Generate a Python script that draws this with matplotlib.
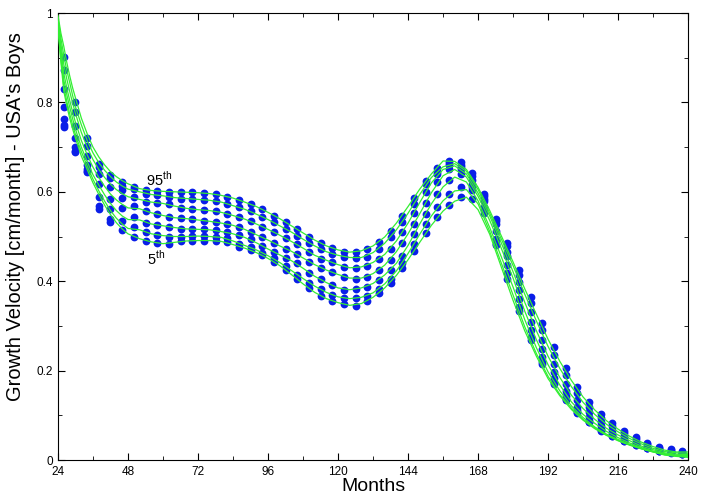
import numpy as np
import matplotlib
matplotlib.use('Agg')
import matplotlib.pyplot as plt
from matplotlib.ticker import MultipleLocator

plt.rcParams['font.family'] = ['Liberation Sans', 'DejaVu Sans']
plt.rcParams['mathtext.fontset'] = 'custom'
plt.rcParams['mathtext.rm'] = 'Liberation Sans'

# dot columns (months) and the 7 percentile values at each, high to low
dot_months = list(range(26, 239, 4))
dot_values = [
    [0.902, 0.872, 0.829, 0.790, 0.764, 0.749, 0.746],
    [0.802, 0.778, 0.747, 0.720, 0.701, 0.691, 0.688],
    [0.720, 0.702, 0.680, 0.661, 0.650, 0.647, 0.644],
    [0.662, 0.656, 0.640, 0.617, 0.588, 0.568, 0.562],
    [0.638, 0.630, 0.610, 0.583, 0.561, 0.539, 0.533],
    [0.623, 0.614, 0.605, 0.587, 0.563, 0.535, 0.515],
    [0.610, 0.606, 0.589, 0.568, 0.544, 0.521, 0.500],
    [0.604, 0.595, 0.578, 0.556, 0.531, 0.509, 0.490],
    [0.602, 0.593, 0.576, 0.550, 0.526, 0.503, 0.485],
    [0.600, 0.589, 0.573, 0.544, 0.522, 0.500, 0.483],
    [0.599, 0.585, 0.564, 0.541, 0.517, 0.500, 0.490],
    [0.599, 0.584, 0.562, 0.539, 0.517, 0.501, 0.490],
    [0.597, 0.582, 0.559, 0.535, 0.516, 0.501, 0.491],
    [0.594, 0.580, 0.557, 0.533, 0.514, 0.500, 0.491],
    [0.589, 0.573, 0.550, 0.528, 0.509, 0.496, 0.487],
    [0.582, 0.565, 0.543, 0.521, 0.503, 0.483, 0.477],
    [0.572, 0.557, 0.535, 0.511, 0.494, 0.476, 0.470],
    [0.561, 0.544, 0.522, 0.498, 0.479, 0.464, 0.459],
    [0.547, 0.532, 0.510, 0.486, 0.466, 0.451, 0.444],
    [0.532, 0.517, 0.496, 0.473, 0.452, 0.433, 0.426],
    [0.516, 0.502, 0.483, 0.461, 0.440, 0.415, 0.404],
    [0.500, 0.486, 0.466, 0.444, 0.419, 0.397, 0.384],
    [0.485, 0.472, 0.450, 0.430, 0.404, 0.382, 0.367],
    [0.474, 0.461, 0.444, 0.421, 0.391, 0.369, 0.356],
    [0.466, 0.455, 0.431, 0.410, 0.380, 0.362, 0.349],
    [0.465, 0.451, 0.429, 0.405, 0.383, 0.362, 0.345],
    [0.472, 0.455, 0.435, 0.410, 0.388, 0.367, 0.356],
    [0.487, 0.473, 0.450, 0.425, 0.403, 0.382, 0.373],
    [0.513, 0.498, 0.471, 0.447, 0.425, 0.406, 0.397],
    [0.547, 0.532, 0.509, 0.485, 0.456, 0.440, 0.429],
    [0.587, 0.572, 0.552, 0.527, 0.505, 0.484, 0.468],
    [0.625, 0.617, 0.600, 0.575, 0.551, 0.527, 0.507],
    [0.653, 0.645, 0.640, 0.621, 0.595, 0.565, 0.543],
    [0.668, 0.664, 0.660, 0.650, 0.626, 0.594, 0.570],
    [0.666, 0.661, 0.656, 0.650, 0.640, 0.610, 0.588],
    [0.642, 0.636, 0.626, 0.618, 0.610, 0.604, 0.585],
    [0.595, 0.590, 0.585, 0.580, 0.567, 0.560, 0.552],
    [0.540, 0.534, 0.528, 0.513, 0.494, 0.484, 0.480],
    [0.485, 0.478, 0.466, 0.457, 0.437, 0.419, 0.405],
    [0.425, 0.415, 0.399, 0.380, 0.361, 0.343, 0.333],
    [0.365, 0.351, 0.330, 0.309, 0.291, 0.276, 0.268],
    [0.307, 0.291, 0.268, 0.248, 0.231, 0.220, 0.215],
    [0.252, 0.236, 0.215, 0.198, 0.183, 0.173, 0.169],
    [0.205, 0.190, 0.170, 0.154, 0.143, 0.137, 0.134],
    [0.164, 0.151, 0.134, 0.119, 0.112, 0.108, 0.106],
    [0.130, 0.119, 0.107, 0.097, 0.089, 0.086, 0.084],
    [0.104, 0.095, 0.084, 0.076, 0.069, 0.067, 0.066],
    [0.082, 0.075, 0.067, 0.061, 0.056, 0.054, 0.053],
    [0.065, 0.060, 0.054, 0.049, 0.045, 0.043, 0.042],
    [0.051, 0.046, 0.041, 0.037, 0.035, 0.034, 0.033],
    [0.039, 0.035, 0.031, 0.028, 0.027, 0.026, 0.026],
    [0.030, 0.027, 0.024, 0.022, 0.021, 0.020, 0.020],
    [0.024, 0.022, 0.019, 0.018, 0.017, 0.017, 0.016],
    [0.020, 0.018, 0.016, 0.015, 0.014, 0.014, 0.013],
]

# fitted percentile curves (green)
line_months = [24, 25, 26, 27, 28, 29, 30, 32, 34, 36, 38, 40, 42, 44, 46, 48] + list(range(52, 241, 4))
line_values = [
    [0.995, 0.990, 0.985, 0.980, 0.975, 0.970, 0.965],
    [0.955, 0.943, 0.930, 0.918, 0.908, 0.898, 0.890],
    [0.925, 0.905, 0.885, 0.865, 0.850, 0.835, 0.825],
    [0.890, 0.872, 0.853, 0.833, 0.818, 0.803, 0.793],
    [0.860, 0.845, 0.825, 0.805, 0.790, 0.775, 0.765],
    [0.833, 0.816, 0.799, 0.779, 0.764, 0.750, 0.741],
    [0.810, 0.790, 0.775, 0.755, 0.740, 0.728, 0.720],
    [0.765, 0.750, 0.733, 0.715, 0.700, 0.690, 0.680],
    [0.730, 0.715, 0.700, 0.683, 0.668, 0.658, 0.650],
    [0.700, 0.687, 0.672, 0.655, 0.638, 0.628, 0.620],
    [0.678, 0.665, 0.650, 0.632, 0.615, 0.602, 0.594],
    [0.660, 0.648, 0.632, 0.612, 0.593, 0.579, 0.570],
    [0.645, 0.634, 0.617, 0.595, 0.574, 0.558, 0.549],
    [0.634, 0.622, 0.605, 0.582, 0.558, 0.541, 0.531],
    [0.625, 0.613, 0.596, 0.572, 0.546, 0.528, 0.517],
    [0.618, 0.606, 0.589, 0.564, 0.538, 0.518, 0.506],
    [0.607, 0.600, 0.583, 0.562, 0.537, 0.515, 0.495],
    [0.603, 0.594, 0.577, 0.553, 0.528, 0.506, 0.488],
    [0.601, 0.591, 0.574, 0.547, 0.524, 0.502, 0.484],
    [0.600, 0.587, 0.568, 0.542, 0.520, 0.500, 0.487],
    [0.599, 0.585, 0.563, 0.540, 0.517, 0.500, 0.490],
    [0.598, 0.583, 0.560, 0.537, 0.516, 0.501, 0.491],
    [0.596, 0.581, 0.558, 0.534, 0.515, 0.500, 0.491],
    [0.592, 0.577, 0.554, 0.530, 0.511, 0.498, 0.489],
    [0.586, 0.569, 0.547, 0.525, 0.506, 0.490, 0.482],
    [0.577, 0.561, 0.539, 0.516, 0.498, 0.480, 0.474],
    [0.567, 0.550, 0.528, 0.504, 0.486, 0.470, 0.464],
    [0.554, 0.538, 0.516, 0.492, 0.472, 0.457, 0.451],
    [0.540, 0.524, 0.503, 0.479, 0.459, 0.442, 0.435],
    [0.524, 0.510, 0.489, 0.467, 0.446, 0.424, 0.415],
    [0.508, 0.494, 0.474, 0.452, 0.429, 0.406, 0.394],
    [0.492, 0.479, 0.458, 0.437, 0.411, 0.389, 0.375],
    [0.479, 0.466, 0.447, 0.425, 0.397, 0.375, 0.361],
    [0.470, 0.458, 0.437, 0.415, 0.385, 0.365, 0.352],
    [0.465, 0.453, 0.430, 0.407, 0.381, 0.361, 0.346],
    [0.468, 0.453, 0.432, 0.407, 0.385, 0.364, 0.350],
    [0.479, 0.464, 0.442, 0.417, 0.395, 0.374, 0.364],
    [0.499, 0.485, 0.460, 0.436, 0.414, 0.394, 0.385],
    [0.530, 0.515, 0.490, 0.466, 0.440, 0.423, 0.413],
    [0.567, 0.552, 0.530, 0.506, 0.480, 0.462, 0.448],
    [0.606, 0.594, 0.576, 0.551, 0.528, 0.505, 0.487],
    [0.640, 0.632, 0.620, 0.598, 0.573, 0.546, 0.525],
    [0.669, 0.656, 0.650, 0.636, 0.611, 0.580, 0.557],
    [0.668, 0.663, 0.658, 0.650, 0.633, 0.602, 0.579],
    [0.650, 0.646, 0.640, 0.633, 0.622, 0.605, 0.588],
    [0.610, 0.605, 0.597, 0.590, 0.580, 0.573, 0.560],
    [0.558, 0.552, 0.546, 0.536, 0.520, 0.511, 0.505],
    [0.501, 0.494, 0.485, 0.473, 0.454, 0.440, 0.431],
    [0.443, 0.435, 0.421, 0.407, 0.387, 0.369, 0.357],
    [0.383, 0.371, 0.353, 0.333, 0.314, 0.298, 0.289],
    [0.326, 0.311, 0.289, 0.269, 0.251, 0.238, 0.232],
    [0.270, 0.254, 0.232, 0.213, 0.197, 0.187, 0.182],
    [0.221, 0.205, 0.185, 0.168, 0.155, 0.147, 0.144],
    [0.178, 0.164, 0.145, 0.130, 0.121, 0.116, 0.113],
    [0.141, 0.129, 0.115, 0.102, 0.095, 0.091, 0.089],
    [0.112, 0.102, 0.091, 0.082, 0.074, 0.072, 0.070],
    [0.088, 0.080, 0.071, 0.064, 0.058, 0.056, 0.055],
    [0.069, 0.063, 0.056, 0.050, 0.046, 0.044, 0.043],
    [0.053, 0.048, 0.043, 0.038, 0.035, 0.034, 0.033],
    [0.040, 0.036, 0.031, 0.028, 0.026, 0.025, 0.025],
    [0.030, 0.026, 0.023, 0.020, 0.019, 0.018, 0.018],
    [0.022, 0.019, 0.016, 0.014, 0.013, 0.012, 0.011],
    [0.018, 0.016, 0.013, 0.011, 0.010, 0.009, 0.008],
    [0.018, 0.015, 0.012, 0.010, 0.008, 0.007, 0.006],
]

dots = np.array(dot_values)
lines = np.array(line_values)

fig = plt.figure(figsize=(7.08, 4.95), dpi=100)
ax = fig.add_axes([0.0819, 0.0707, 0.89, 0.903])

for k in range(dots.shape[1]):
    ax.plot(dot_months, dots[:, k], 'o', color='#0a1ee8', markersize=5.6,
            markeredgewidth=0, zorder=2)
for k in range(lines.shape[1]):
    ax.plot(line_months, lines[:, k], '-', color='#33ee33', lw=0.9, zorder=3)

ax.text(54.3, 0.628, r'95$^{\mathrm{th}}$', fontsize=10.5, va='center')
ax.text(54.5, 0.452, r'5$^{\mathrm{th}}$', fontsize=10.5, va='center')

ax.set_xlim(24, 240)
ax.set_ylim(0, 1)
ax.xaxis.set_major_locator(MultipleLocator(24))
ax.xaxis.set_minor_locator(MultipleLocator(12))
ax.yaxis.set_minor_locator(MultipleLocator(0.1))
ax.set_yticks([0, 0.2, 0.4, 0.6, 0.8, 1.0])
ax.set_yticklabels(['0', '0.2', '0.4', '0.6', '0.8', '1'])
ax.tick_params(which='both', direction='in', top=True, right=True, labelsize=8.5)
ax.tick_params(which='major', length=5)
ax.tick_params(which='minor', length=3)
ax.tick_params(axis='x', pad=4)

ax.set_xlabel('Months', fontsize=14, labelpad=0)
ax.set_ylabel("Growth Velocity [cm/month] - USA's Boys", fontsize=14.5)
ax.yaxis.set_label_coords(-0.052, 0.545)

fig.savefig('out.png', dpi=100)
